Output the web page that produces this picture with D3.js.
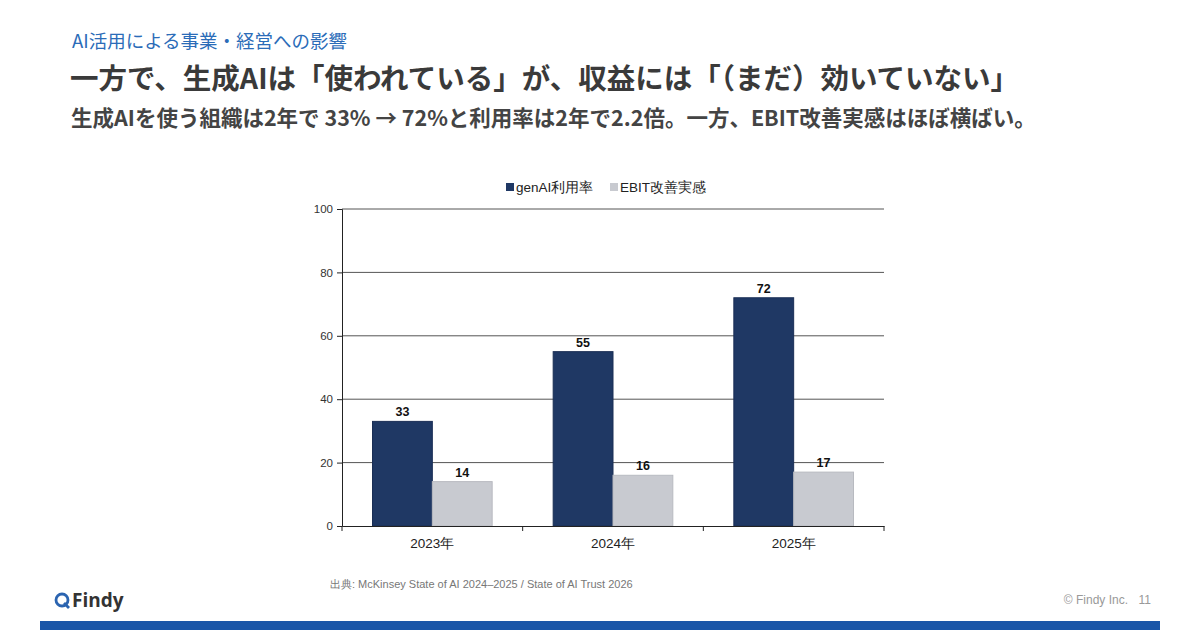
<!DOCTYPE html>
<html><head><meta charset="utf-8">
<script src="https://cdn.jsdelivr.net/npm/d3@7"></script>
<style>
html,body{margin:0;padding:0;background:#fff;}
svg{display:block;}
</style>
</head><body>
<svg id="c" width="1200" height="630"></svg>
<script>
const categories = ["2023年", "2024年", "2025年"];
const seriesNames = ["genAI利用率", "EBIT改善実感"];
const genAIValues = [33, 55, 72];
const ebitValues = [14, 16, 17];
const yTicks = [0, 20, 40, 60, 80, 100];
const seriesColors = ["#1f3864", "#c8cad0"];

const svg = d3.select("#c");
const jp = "'Noto Sans CJK JP','Noto Sans',sans-serif";
const ar = "'Liberation Sans',Arial,sans-serif";

// Header
svg.append("text").attr("x", 72).attr("y", 48).attr("font-family", jp).attr("font-size", 18.5)
  .attr("fill", "#2b6cb8").text("AI活用による事業・経営への影響");
svg.append("text").attr("x", 70).attr("y", 89).attr("font-family", jp).attr("font-size", 28.5)
  .attr("font-weight", 700).attr("fill", "#3a3a3a").text("一方で、生成AIは「使われている」が、収益には「（まだ）効いていない」");
svg.append("text").attr("x", 71).attr("y", 126).attr("font-family", jp).attr("font-size", 21.5)
  .attr("font-weight", 700).attr("fill", "#444").text("生成AIを使う組織は2年で 33% → 72%と利用率は2年で2.2倍。一方、EBIT改善実感はほぼ横ばい。");

// Chart
const pLeft = 342, pRight = 884, pTop = 209, pBottom = 526;
const y = d3.scaleLinear().domain([0, 100]).range([pBottom, pTop]);
const x0 = d3.scaleBand().domain(categories).range([pLeft, pRight]).padding(0);
const x1 = d3.scaleBand().domain(seriesNames).range([0, x0.bandwidth()]).paddingInner(0).paddingOuter(0.51);

const g = svg.append("g");
// gridlines
g.selectAll("line.grid").data(yTicks.filter(d => d > 0)).join("line")
  .attr("x1", pLeft).attr("x2", pRight).attr("y1", d => y(d)).attr("y2", d => y(d))
  .attr("stroke", "#555").attr("stroke-width", 1);

// y axis
const yAxis = d3.axisLeft(y).tickValues(yTicks).tickSize(5).tickPadding(4);
const ya = svg.append("g").attr("transform", `translate(${pLeft},0)`).call(yAxis);
ya.select(".domain").attr("stroke", "#222");
ya.selectAll(".tick line").attr("stroke", "#222");
ya.selectAll("text").attr("font-family", ar).attr("font-size", 11.5).attr("fill", "#333");

// bars
const data = categories.map((c, i) => ({cat: c, vals: [genAIValues[i], ebitValues[i]]}));
const grp = svg.append("g").selectAll("g").data(data).join("g")
  .attr("transform", d => `translate(${x0(d.cat)},0)`);
grp.selectAll("rect").data(d => d.vals.map((v, j) => ({s: seriesNames[j], v, j}))).join("rect")
  .attr("x", d => x1(d.s)).attr("width", x1.bandwidth())
  .attr("y", d => y(d.v)).attr("height", d => y(0) - y(d.v))
  .attr("fill", d => seriesColors[d.j])
  .attr("stroke", d => d.j === 0 ? "#1a2e55" : "#b8bac0").attr("stroke-width", 1);
grp.selectAll("text").data(d => d.vals.map((v, j) => ({s: seriesNames[j], v, j}))).join("text")
  .attr("x", d => x1(d.s) + x1.bandwidth() / 2).attr("y", d => y(d.v) - 5)
  .attr("text-anchor", "middle").attr("font-family", ar).attr("font-size", 12.5)
  .attr("font-weight", 700).attr("fill", "#111").text(d => d.v);

// x axis
const xAxis = d3.axisBottom(x0).tickSize(0).tickPadding(12);
const xa = svg.append("g").attr("transform", `translate(0,${pBottom})`).call(xAxis);
xa.select(".domain").attr("stroke", "#222");
xa.selectAll("text").attr("font-family", ar).attr("font-size", 13.5).attr("fill", "#222");
// group boundary ticks
const bounds = categories.map(c => x0(c)).concat([pRight]);
svg.append("g").selectAll("line").data(bounds).join("line")
  .attr("x1", d => d).attr("x2", d => d).attr("y1", pBottom).attr("y2", pBottom + 5)
  .attr("stroke", "#222");

// legend
const leg = svg.append("g").attr("transform", "translate(506,187)");
const legX = [0, 104];
seriesNames.forEach((s, i) => {
  leg.append("rect").attr("x", legX[i]).attr("y", -4).attr("width", 8).attr("height", 8).attr("fill", seriesColors[i]);
  leg.append("text").attr("x", legX[i] + 10).attr("y", 5).attr("font-family", ar)
    .attr("font-size", 13.5).attr("fill", "#222").text(s);
});

// source
svg.append("text").attr("x", 330).attr("y", 588).attr("font-family", ar).attr("font-size", 11)
  .attr("fill", "#777").text("出典: McKinsey State of AI 2024–2025 / State of AI Trust 2026");

// footer logo
const logo = svg.append("g").attr("transform", "translate(55,600)");
logo.append("circle").attr("cx", 7).attr("cy", 0).attr("r", 6).attr("fill", "none")
  .attr("stroke", "#2b64b0").attr("stroke-width", 2.8);
logo.append("line").attr("x1", 9).attr("y1", 3).attr("x2", 14).attr("y2", 8)
  .attr("stroke", "#2b64b0").attr("stroke-width", 2.8);
logo.append("text").attr("x", 17).attr("y", 7).attr("font-family", "'Open Sans',sans-serif")
  .attr("font-size", 19).attr("font-weight", 700).attr("fill", "#333").text("Findy");
svg.append("text").attr("x", 1128).attr("y", 604).attr("text-anchor", "end")
  .attr("font-family", ar).attr("font-size", 12).attr("fill", "#999").text("© Findy Inc.");
svg.append("text").attr("x", 1151).attr("y", 604).attr("text-anchor", "end")
  .attr("font-family", ar).attr("font-size", 12).attr("fill", "#999").text("11");

// bottom bar
svg.append("rect").attr("x", 40).attr("y", 621).attr("width", 1120).attr("height", 9).attr("fill", "#1a56a8");
</script>
</body></html>
